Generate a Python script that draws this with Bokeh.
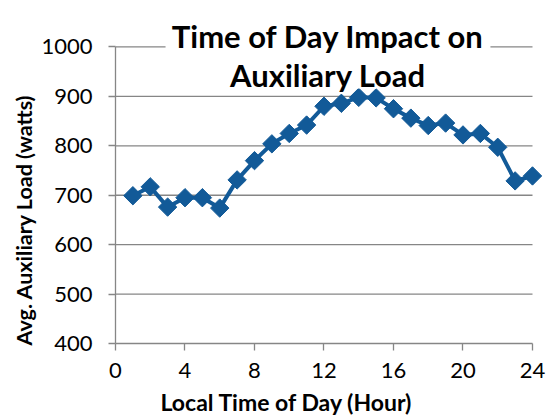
import math
from bokeh.plotting import figure
from bokeh.models import FixedTicker, Label, BoxAnnotation, Range1d, Title
from bokeh.embed import file_html
from bokeh.resources import INLINE

hours = list(range(1, 25))
load = [699, 717, 676, 695, 695, 674, 731, 770, 804, 825, 842, 880,
        886, 898, 897, 875, 856, 841, 846, 822, 825, 797, 729, 739]
x_ticks = [0, 4, 8, 12, 16, 20, 24]
y_ticks = [400, 500, 600, 700, 800, 900, 1000]
title_lines = ["Time of Day Impact on", "Auxiliary Load"]
x_title = "Local Time of Day (Hour)"
y_title = "Avg. Auxiliary Load (watts)"

FONT = "Lato"
GRAY = "#868686"
BLUE = "#125A98"

x_min, x_max = x_ticks[0], x_ticks[-1]
y_min, y_max = y_ticks[0], y_ticks[-1]

# ranges extend a little past the axes so the title and the last marker are not clipped
p = figure(frame_width=427, frame_height=343, min_border_left=115, min_border_right=6,
           min_border_top=0, min_border_bottom=72,
           x_range=Range1d(x_min, 24.576), y_range=Range1d(y_min, 1094),
           output_backend="svg", toolbar_location=None)
p.outline_line_color = None
p.background_fill_color = "white"
p.border_fill_color = "white"

p.xgrid.visible = False
p.ygrid.visible = False
# horizontal gridlines limited to the axis extent
p.segment(x0=[x_min] * (len(y_ticks) - 1), x1=[x_max] * (len(y_ticks) - 1),
          y0=y_ticks[1:], y1=y_ticks[1:], line_color=GRAY, line_width=1.3,
          level="underlay")

for ax in (p.xaxis[0], p.yaxis[0]):
    ax.axis_line_color = GRAY
    ax.axis_line_width = 1.3
    ax.major_tick_line_color = GRAY
    ax.major_tick_line_width = 1.3
    ax.major_tick_out = 7
    ax.major_tick_in = 0
    ax.minor_tick_line_color = None
    ax.major_label_text_font = FONT
    ax.major_label_text_font_size = "22px"
    ax.major_label_text_color = "black"

p.xaxis.ticker = FixedTicker(ticks=x_ticks)
p.yaxis.ticker = FixedTicker(ticks=y_ticks)
p.xaxis.bounds = (x_min, x_max)
p.yaxis.bounds = (y_min, y_max)
p.xaxis.major_label_standoff = 12
p.yaxis.major_label_standoff = 16

# white box behind title (covers the top gridline)
p.add_layout(BoxAnnotation(left=2.88, right=21.58, bottom=916, top=1094,
                           fill_color="white", fill_alpha=1.0, line_color=None))

p.line(hours, load, line_color=BLUE, line_width=4)
p.scatter(hours, load, marker="square", size=13, angle=math.pi / 4,
          fill_color=BLUE, line_color=BLUE)

p.add_layout(Label(x=12.23, y=1021.8, text=title_lines[0], text_align="center",
                   text_baseline="alphabetic", text_font=FONT, text_font_style="bold",
                   text_font_size="31px", text_color="black"))
p.add_layout(Label(x=12.23, y=942.3, text=title_lines[1], text_align="center",
                   text_baseline="alphabetic", text_font=FONT, text_font_style="bold",
                   text_font_size="31px", text_color="black"))

p.add_layout(Title(text=x_title, align="left", offset=45, standoff=10,
                   text_font=FONT, text_font_style="bold", text_font_size="23px",
                   text_color="black"), "below")
p.add_layout(Title(text=y_title, align="left", offset=-2, standoff=4,
                   text_font=FONT, text_font_style="bold", text_font_size="21.5px",
                   text_color="black"), "left")

open("out.html", "w").write(file_html(p, INLINE))
